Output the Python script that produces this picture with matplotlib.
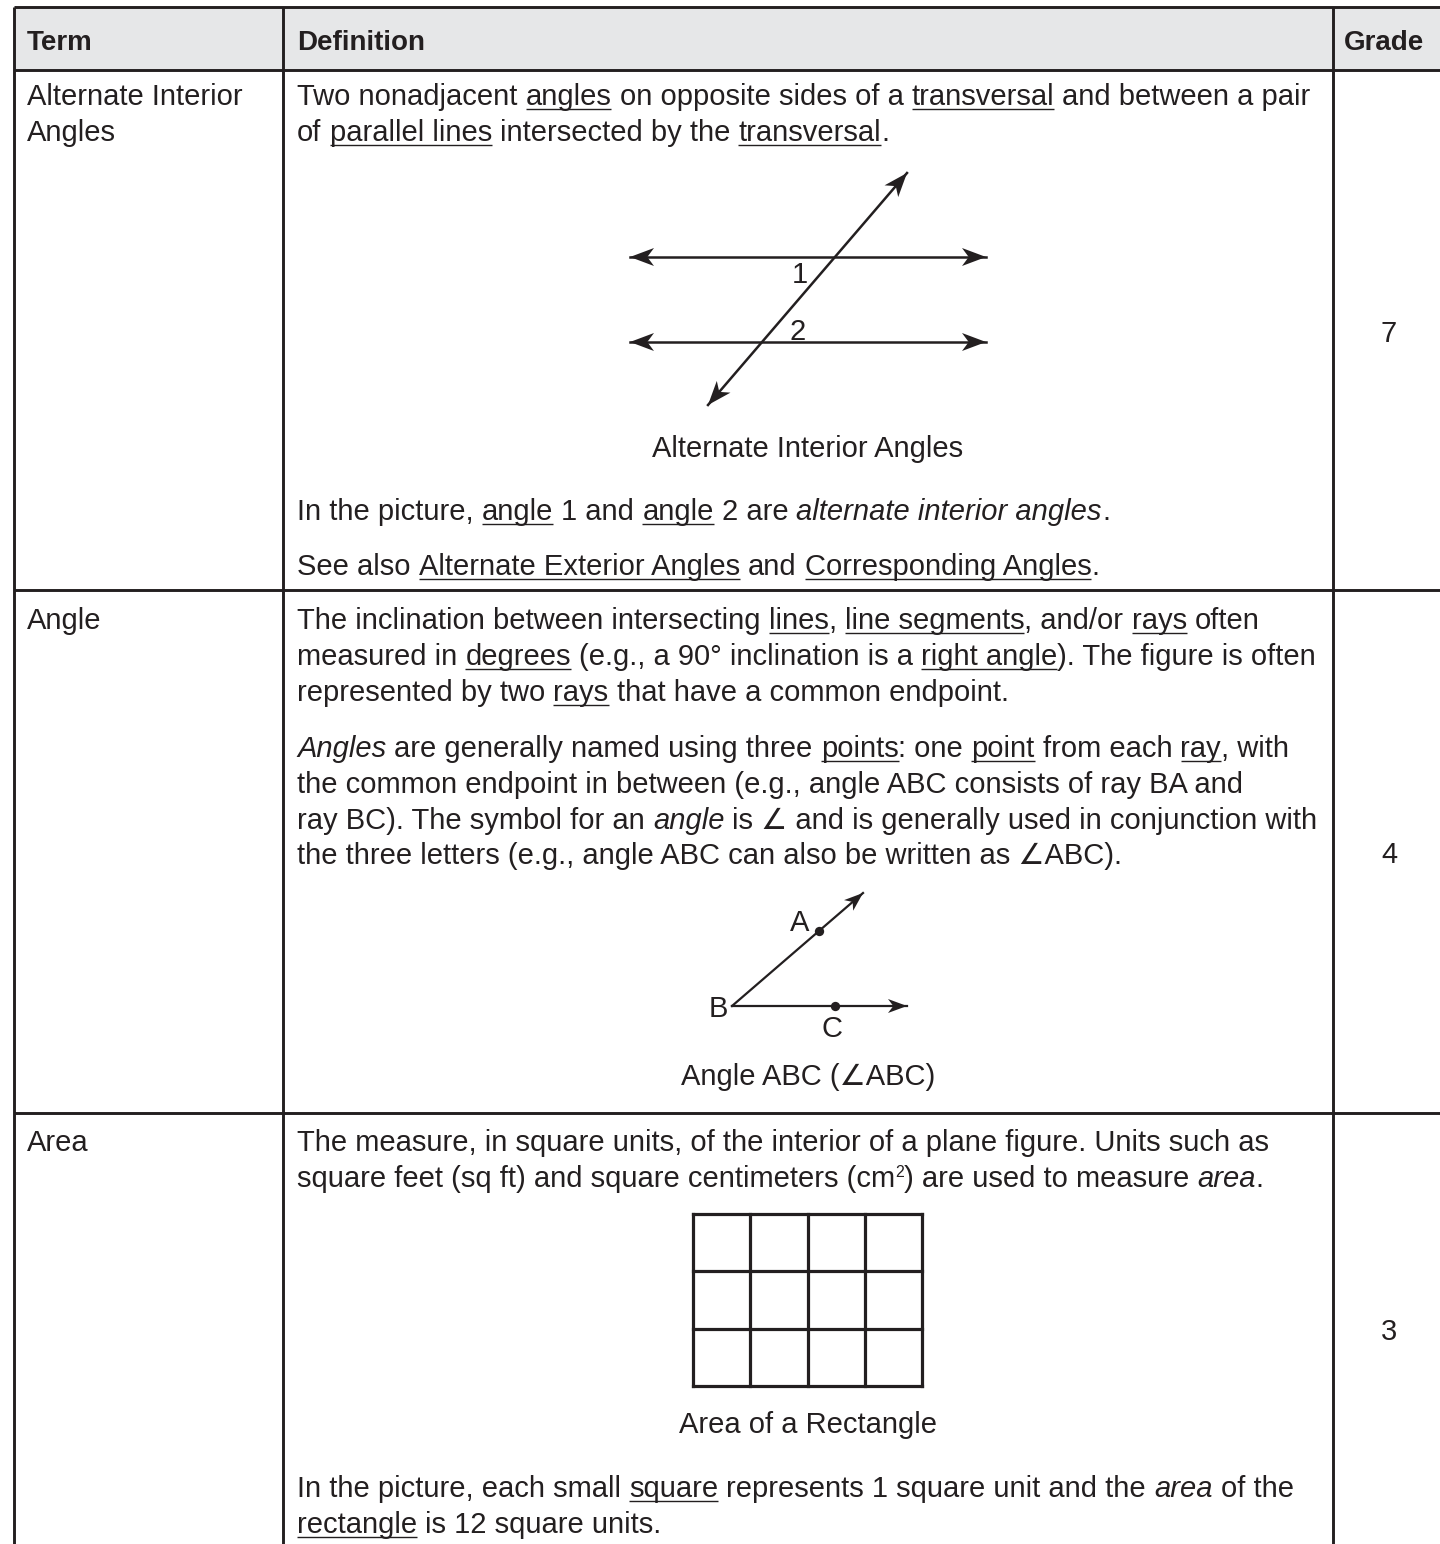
import re
import matplotlib
matplotlib.use("Agg")
import matplotlib.pyplot as plt
from matplotlib.font_manager import FontProperties

INK = "#231f20"
HEAD_BG = "#e6e7e8"
FAM = ["Liberation Sans", "DejaVu Sans"]
FS = 21
HEAD_FS = 20

# table frame (pixels)
col_x = [14, 283, 1333]
row_y = [7, 70, 590, 1113]
text_x = [27, 297]
grade_cx = 1389

headers = ["Term", "Definition", "Grade"]
header_base = 50

terms = [["Alternate Interior", "Angles"], ["Angle"], ["Area"]]
term_base = [105, 629, 1151]
grades = ["7", "4", "3"]
grade_base = [342, 863, 1340]

# definition lines: _underlined_, *italic*, ^superscript^
def_lines = [
    (105, "Two nonadjacent _angles_ on opposite sides of a _transversal_ and between a pair"),
    (141, "of _parallel lines_ intersected by the _transversal_."),
    (520, "In the picture, _angle_ 1 and _angle_ 2 are *alternate interior angles*."),
    (575, "See also _Alternate Exterior Angles_ and _Corresponding Angles_."),
    (629, "The inclination between intersecting _lines_, _line segments_, and/or _rays_ often"),
    (665, "measured in _degrees_ (e.g., a 90° inclination is a _right angle_). The figure is often"),
    (701, "represented by two _rays_ that have a common endpoint."),
    (757, "*Angles* are generally named using three _points_: one _point_ from each _ray_, with"),
    (793, "the common endpoint in between (e.g., angle ABC consists of ray BA and"),
    (829, "ray BC). The symbol for an *angle* is \u2220 and is generally used in conjunction with"),
    (864, "the three letters (e.g., angle ABC can also be written as \u2220ABC)."),
    (1151, "The measure, in square units, of the interior of a plane figure. Units such as"),
    (1187, "square feet (sq ft) and square centimeters (cm^2^) are used to measure *area*."),
    (1497, "In the picture, each small _square_ represents 1 square unit and the *area* of the"),
    (1533, "_rectangle_ is 12 square units."),
]

captions = ["Alternate Interior Angles", "Angle ABC (\u2220ABC)", "Area of a Rectangle"]
caption_base = [457, 1085, 1433]
caption_cx = 808

# diagram 1: parallel lines cut by a transversal
parallel_y = [257, 342]
parallel_x = [630, 986]
transversal = [(708, 405), (907, 173)]
angle_labels = [("1", 800, 273), ("2", 798, 330)]

# diagram 2: angle ABC
vertex_B = (732, 1006)
ray_tips = [(863, 893), (907, 1006)]
ray_points = [(819, 931), (835, 1006)]
point_labels = [("A", 800, 921), ("B", 718, 1007), ("C", 832, 1027)]

# diagram 3: 4 x 3 rectangle of unit squares
grid_cols, grid_rows = 4, 3
grid_box = (693, 1214, 922, 1386)

fig = plt.figure(figsize=(14.4, 15.44), dpi=100)
ax = fig.add_axes([0, 0, 1, 1])
ax.set_xlim(0, 1440)
ax.set_ylim(1544, 0)
ax.axis("off")
renderer = fig.canvas.get_renderer()


def prop(style="normal", size=FS, weight="normal"):
    return FontProperties(family=FAM, style=style, size=size, weight=weight)


def advance(s, p):
    w1 = renderer.get_text_width_height_descent("|" + s + "|", p, ismath=False)[0]
    w0 = renderer.get_text_width_height_descent("||", p, ismath=False)[0]
    return w1 - w0


def put(x, y, s, p, **kw):
    ax.text(x, y, s, fontproperties=p, color=INK, va="baseline", **kw)


def rich_line(x, y, markup):
    parts = re.split(r"(_[^_]+_|\*[^*]+\*|\^[^^]+\^)", markup)
    for part in parts:
        if not part:
            continue
        style, sup, under = "normal", False, False
        if part[0] == "_":
            part, under = part[1:-1], True
        elif part[0] == "*":
            part, style = part[1:-1], "italic"
        elif part[0] == "^":
            part, sup = part[1:-1], True
        p = prop(style, FS * 0.55 if sup else FS)
        core = part.strip(" ")
        lead = len(part) - len(part.lstrip(" "))
        trail = len(part) - len(part.rstrip(" "))
        sp = advance(" ", p)
        x += lead * sp
        w = advance(core, p)
        put(x, y - (10 if sup else 0), core, p)
        if under:
            ax.plot([x, x + w], [y + 4, y + 4], color=INK, lw=1.0,
                    solid_capstyle="butt")
        x += w + trail * sp


def arrow_head(tip, tail, length, half):
    dx, dy = tip[0] - tail[0], tip[1] - tail[1]
    n = (dx * dx + dy * dy) ** 0.5
    ux, uy = dx / n, dy / n
    px, py = -uy, ux
    bx, by = tip[0] - length * ux, tip[1] - length * uy
    notch = (tip[0] - 0.72 * length * ux, tip[1] - 0.72 * length * uy)
    xs = [tip[0], bx + half * px, notch[0], bx - half * px]
    ys = [tip[1], by + half * py, notch[1], by - half * py]
    ax.fill(xs, ys, color=INK, lw=0, zorder=3)


# header band and frame
ax.fill_between([col_x[0], 1440], row_y[0], row_y[1], color=HEAD_BG, lw=0)
for y in row_y:
    ax.plot([col_x[0], 1440], [y, y], color=INK, lw=2.1, solid_capstyle="butt")
for x in col_x:
    ax.plot([x, x], [row_y[0], 1544], color=INK, lw=2.1, solid_capstyle="butt")

hp = prop(weight="bold", size=HEAD_FS)
put(text_x[0], header_base, headers[0], hp)
put(text_x[1], header_base, headers[1], hp)
put(col_x[2] + 11, header_base, headers[2], hp)

for lines, yb in zip(terms, term_base):
    for i, t in enumerate(lines):
        put(text_x[0], yb + i * 36, t, prop())

for g, yb in zip(grades, grade_base):
    put(grade_cx, yb, g, prop(), ha="center")

for yb, m in def_lines:
    rich_line(text_x[1], yb, m)

for c, yb in zip(captions, caption_base):
    put(caption_cx, yb, c, prop(), ha="center")

# diagram 1
for y in parallel_y:
    ax.plot(parallel_x, [y, y], color=INK, lw=1.8)
    arrow_head((parallel_x[0], y), (parallel_x[1], y), 24, 9)
    arrow_head((parallel_x[1], y), (parallel_x[0], y), 24, 9)
(tx0, ty0), (tx1, ty1) = transversal
ax.plot([tx0, tx1], [ty0, ty1], color=INK, lw=1.8)
arrow_head((tx0, ty0), (tx1, ty1), 24, 9)
arrow_head((tx1, ty1), (tx0, ty0), 24, 9)
for s, x, y in angle_labels:
    put(x, y + 10, s, prop(), ha="center")

# diagram 2
for tip in ray_tips:
    ax.plot([vertex_B[0], tip[0]], [vertex_B[1], tip[1]], color=INK, lw=1.6)
    arrow_head(tip, vertex_B, 19, 7)
ax.scatter([p[0] for p in ray_points], [p[1] for p in ray_points],
           s=45, color=INK, zorder=4, lw=0)
for s, x, y in point_labels:
    put(x, y + 10, s, prop(), ha="center")

# diagram 3
gx0, gy0, gx1, gy1 = grid_box
for i in range(grid_cols + 1):
    x = gx0 + (gx1 - gx0) * i / grid_cols
    ax.plot([x, x], [gy0, gy1], color=INK, lw=2.3, solid_capstyle="projecting")
for j in range(grid_rows + 1):
    y = gy0 + (gy1 - gy0) * j / grid_rows
    ax.plot([gx0, gx1], [y, y], color=INK, lw=2.3, solid_capstyle="projecting")

fig.savefig("out.png", dpi=100)
